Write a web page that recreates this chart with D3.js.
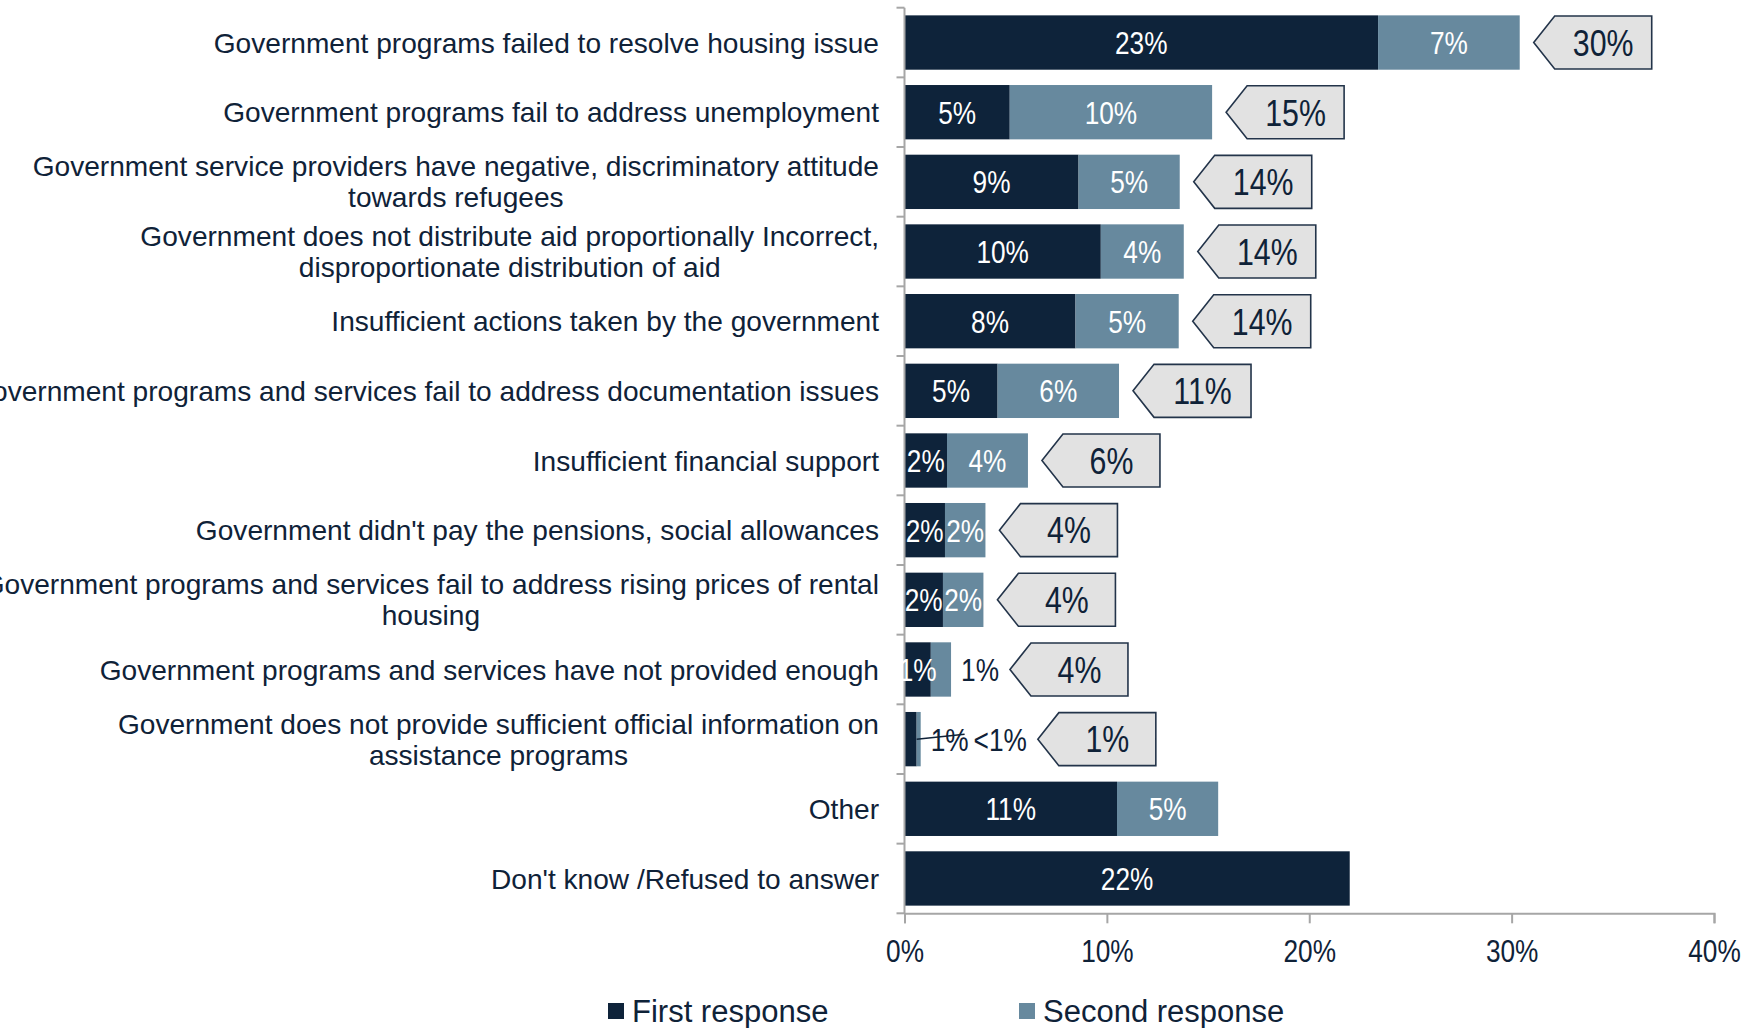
<!DOCTYPE html>
<html>
<head>
<meta charset="utf-8">
<script src="https://cdn.jsdelivr.net/npm/d3@7"></script>
<style>
  html, body { margin: 0; padding: 0; background: #ffffff; }
  svg { display: block; }
  .cat { font-family: "Liberation Sans", Arial, sans-serif; font-size: 28.1px; fill: #0f2238; }
  .num { font-family: "Liberation Sans", Arial, sans-serif; }
  .legend text { font-family: "Liberation Sans", Arial, sans-serif; font-size: 31px; fill: #0f2238; }
</style>
</head>
<body>
<svg id="chart" width="1758" height="1028"></svg>
<script>
// Reasons for dissatisfaction with government support (share of respondents, %)
const categories = [
  "Government programs failed to resolve housing issue",
  "Government programs fail to address unemployment",
  "Government service providers have negative, discriminatory attitude\ntowards refugees",
  "Government does not distribute aid proportionally Incorrect,\ndisproportionate distribution of aid",
  "Insufficient actions taken by the government",
  "Government programs and services fail to address documentation issues",
  "Insufficient financial support",
  "Government didn't pay the pensions, social allowances",
  "Government programs and services fail to address rising prices of rental\nhousing",
  "Government programs and services have not provided enough",
  "Government does not provide sufficient official information on\nassistance programs",
  "Other",
  "Don't know /Refused to answer"
];
const firstResponse  = [23.4, 5.2, 8.6, 9.7, 8.45, 4.6, 2.1, 2.0, 1.9, 1.3, 0.6, 10.5, 22.0];
const secondResponse = [7.0, 10.0, 5.0, 4.1, 5.1, 6.0, 4.0, 2.0, 2.0, 1.0, 0.2, 5.0, 0];
// Combined share shown in the arrow callouts
const netShare = [30, 15, 14, 14, 14, 11, 6, 4, 4, 4, 1, null, null];
const seriesNames = ["First response", "Second response"];
const xTicks = [0, 10, 20, 30, 40];

const colors = { first: "#0e233a", second: "#67899e", text: "#0f2238", axis: "#a6a6a6",
                 calloutFill: "#e2e2e2", calloutStroke: "#23344a" };
const NARROW = 0.82; // horizontal squeeze for the condensed number style

const svg = d3.select("#chart");
const x = d3.scaleLinear().domain([0, 40]).range([904.5, 1714]);
const y = d3.scaleBand().domain(d3.range(categories.length)).range([7.7, 913.3])
  .paddingInner(0.22).paddingOuter(0.11);
const step = y.step();
const fmt = v => v < 0.5 ? "<1%" : Math.round(v) + "%";

// condensed number text; returns its rendered width
function numText(px, py, str, size, fill, anchor) {
  const t = svg.append("text").attr("class", "num").attr("font-size", size).attr("fill", fill)
    .attr("text-anchor", anchor).attr("dy", "0.36em")
    .attr("transform", `translate(${px},${py}) scale(${NARROW},1)`).text(str);
  return t.node().getComputedTextLength() * NARROW;
}

const rows = categories.map((c, i) => ({
  i, label: c, first: firstResponse[i], second: secondResponse[i], net: netShare[i]
}));

// Bars: stacked first + second response
const stack = d3.stack().keys(["first", "second"]);
const layers = stack(rows);
const g = svg.append("g");
layers.forEach(layer => {
  g.append("g").selectAll("rect").data(layer.filter(d => d[1] - d[0] > 0)).join("rect")
    .attr("x", d => x(d[0]))
    .attr("y", d => y(d.data.i))
    .attr("width", d => x(d[1]) - x(d[0]))
    .attr("height", y.bandwidth())
    .attr("fill", layer.key === "first" ? colors.first : colors.second);
});

// Axes
const axisG = svg.append("g");
axisG.append("line").attr("x1", x(0)).attr("x2", x(0))
  .attr("y1", y.range()[0]).attr("y2", y.range()[1])
  .attr("stroke", colors.axis).attr("stroke-width", 2);
d3.range(categories.length + 1).forEach(k => {
  const yy = y.range()[0] + k * step;
  axisG.append("line").attr("x1", x(0) - 8).attr("x2", x(0)).attr("y1", yy).attr("y2", yy)
    .attr("stroke", colors.axis).attr("stroke-width", 2);
});
const xAxis = d3.axisBottom(x).tickValues(xTicks).tickFormat(d => d + "%").tickSize(10).tickPadding(16);
const xg = svg.append("g").attr("transform", `translate(0,${y.range()[1]})`).call(xAxis);
xg.select(".domain").attr("stroke", colors.axis).attr("stroke-width", 2);
xg.selectAll(".tick line").attr("stroke", colors.axis).attr("stroke-width", 2);
xg.selectAll(".tick text").attr("class", "num").attr("font-size", 32).attr("fill", colors.text)
  .attr("transform", `scale(${NARROW},1)`);

// Category labels (multi-line labels are centred on their widest line)
const labelRight = 879;
rows.forEach(r => {
  const lines = r.label.split("\n");
  const cy = y(r.i) + y.bandwidth() / 2;
  const lh = 31;
  const texts = lines.map((ln, j) => svg.append("text").attr("class", "cat")
    .attr("y", cy + (j - (lines.length - 1) / 2) * lh).attr("dy", "0.36em").text(ln));
  const widths = texts.map(t => t.node().getComputedTextLength());
  const maxW = d3.max(widths);
  texts.forEach(t => t.attr("text-anchor", "middle").attr("x", labelRight - maxW / 2));
});

// Segment value labels and arrow callouts
const gapBar = 14, gapLabel = 6, calloutW = 118, calloutH = 53, calloutDepth = 21;
rows.forEach(r => {
  const cy = y(r.i) + y.bandwidth() / 2;
  const segs = [[0, r.first], [r.first, r.first + r.second]];
  let cursor = x(r.first + r.second) + 10;
  let tip = x(r.first + r.second) + gapBar;
  segs.forEach(([a, b], si) => {
    const v = b - a;
    if (v <= 0) return;
    const w = x(b) - x(a);
    if (w >= 24) {
      numText((x(a) + x(b)) / 2, cy, fmt(v), 32, "#ffffff", "middle");
    } else {
      const tw = numText(cursor, cy, fmt(v), 32, colors.text, "start");
      if (si === 0 && r.second > 0) {
        // leader line from the segment to its label
        svg.append("line").attr("x1", x(b)).attr("y1", cy)
          .attr("x2", cursor + tw - 4).attr("y2", cy - 5)
          .attr("stroke", colors.text).attr("stroke-width", 1.5);
      }
      cursor += tw + 5;
      tip = cursor + gapLabel;
    }
  });
  if (r.net == null) return;
  const h = calloutH / 2;
  svg.append("path")
    .attr("d", `M${tip},${cy} L${tip + calloutDepth},${cy - h} L${tip + calloutW},${cy - h} ` +
               `L${tip + calloutW},${cy + h} L${tip + calloutDepth},${cy + h} Z`)
    .attr("fill", colors.calloutFill).attr("stroke", colors.calloutStroke).attr("stroke-width", 1.6);
  numText(tip + calloutDepth + (calloutW - calloutDepth) / 2, cy, r.net + "%", 37, colors.text, "middle");
});

// Legend
const legend = svg.append("g").attr("class", "legend");
const legendItems = [
  { name: seriesNames[0], color: colors.first, x: 608 },
  { name: seriesNames[1], color: colors.second, x: 1019 }
];
legendItems.forEach(it => {
  legend.append("rect").attr("x", it.x).attr("y", 1003).attr("width", 16).attr("height", 16).attr("fill", it.color);
  legend.append("text").attr("x", it.x + 24).attr("y", 1011).attr("dy", "0.36em").text(it.name);
});
</script>
</body>
</html>
